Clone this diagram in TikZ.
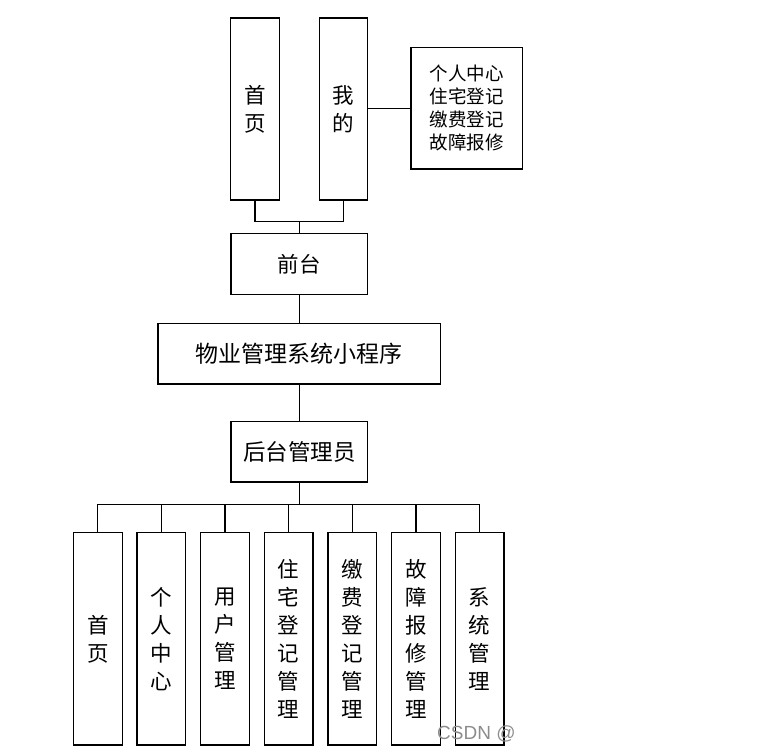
\documentclass[tikz,border=0pt]{standalone}
\usepackage{fontspec}
\setmainfont{Noto Sans CJK SC}
\newfontfamily\wmfont{Liberation Sans}
\begin{document}
\begin{tikzpicture}[x=1pt,y=-1pt,
  box/.style={draw=black,line width=1.3pt,rectangle,inner sep=0pt,align=center,
    font=\fontsize{21.5}{28}\selectfont},
  tall/.style={box,minimum width=48.5pt,minimum height=182pt},
  low/.style={box,minimum width=48.7pt,minimum height=212.3pt},
  wide/.style={box,minimum width=136.7pt,minimum height=60.5pt},
  link/.style={draw=black,line width=1.3pt}]
\useasboundingbox (0,0) rectangle (764,754);
% top
\node[tall] (sy) at (255,109) {首\\页};
\node[tall] (wd) at (343.5,109) {我\\的};
\node[box,minimum width=111.3pt,minimum height=121.7pt,font=\fontsize{18.5}{23}\selectfont,align=left] (lst) at (466.7,108.2) {个人中心\\住宅登记\\缴费登记\\故障报修};
\node[wide] (qt) at (299.3,264) {前台};
\node[box,minimum width=282.7pt,minimum height=60.7pt,font=\fontsize{23}{28}\selectfont] (xt) at (299.3,353.7) {物业管理系统小程序};
\node[wide,font=\fontsize{22.5}{28}\selectfont] (ht) at (299.3,451.7) {后台管理员};
% bottom
\node[low] (b1) at (97.8,638.9) {首\\页};
\node[low] (b2) at (161.4,638.9) {个\\人\\中\\心};
\node[low] (b3) at (225,638.9) {用\\户\\管\\理};
\node[low] (b4) at (288.7,638.9) {住\\宅\\登\\记\\管\\理};
\node[low] (b5) at (352.3,638.9) {缴\\费\\登\\记\\管\\理};
\node[low] (b6) at (416,638.9) {故\\障\\报\\修\\管\\理};
\node[low] (b7) at (479.7,638.9) {系\\统\\管\\理};
% connectors
\coordinate (jt) at (299.3,221.7);
\coordinate (bus) at (299.3,504.3);
\draw[link] (wd.east |- 0,108.7) -- (lst.west |- 0,108.7);
\draw[link] (sy.south) |- (jt) -| (wd.south);
\draw[link] (jt) -- (qt.north);
\draw[link] (qt.south) -- (xt.north);
\draw[link] (xt.south) -- (ht.north);
\draw[link] (ht.south) -- (bus);
\draw[link] (b1.north |- bus) -- (b7.north |- bus);
\foreach \b in {b1,b2,b3,b4,b5,b6,b7}{\draw[link] (\b.north) -- (\b.north |- bus);}
\node[text=black!45,font=\wmfont\fontsize{19}{21}\selectfont,anchor=west,inner sep=0pt] (wm) at (437,733.5) {CSDN @};
\end{tikzpicture}
\end{document}
